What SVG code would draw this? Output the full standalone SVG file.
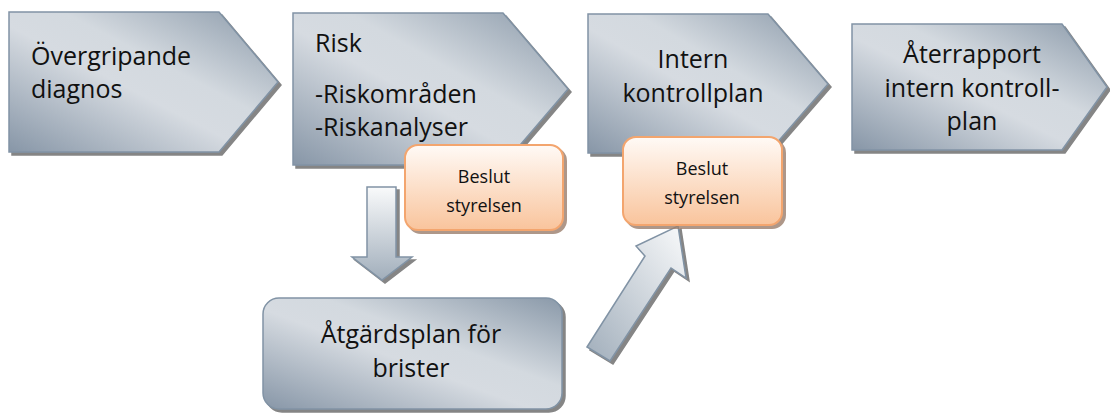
<svg xmlns="http://www.w3.org/2000/svg" width="1110" height="414" viewBox="0 0 1110 414">
<defs>
<linearGradient id="gray" x1="0" y1="1" x2="1" y2="0">
<stop offset="0" stop-color="#8796a7"/>
<stop offset="0.45" stop-color="#d6dbe1"/>
<stop offset="0.6" stop-color="#d3d9df"/>
<stop offset="1" stop-color="#8a99a9"/>
</linearGradient>
<linearGradient id="peach" x1="0" y1="0" x2="0" y2="1">
<stop offset="0" stop-color="#fffaf6"/>
<stop offset="1" stop-color="#f9c49c"/>
</linearGradient>
<linearGradient id="arrowV" x1="0" y1="0" x2="0" y2="1">
<stop offset="0" stop-color="#f9fafb"/>
<stop offset="1" stop-color="#a1aebb"/>
</linearGradient>
<linearGradient id="arrowD" x1="1" y1="0" x2="0" y2="1">
<stop offset="0" stop-color="#f9fafb"/>
<stop offset="1" stop-color="#a1aebb"/>
</linearGradient>
<filter id="sh" x="-10%" y="-10%" width="130%" height="130%">
<feDropShadow dx="3" dy="3" stdDeviation="0.7" flood-color="#6f6f6f" flood-opacity="0.85"/>
</filter>
<filter id="shp" x="-10%" y="-10%" width="130%" height="130%">
<feDropShadow dx="3" dy="3" stdDeviation="0.7" flood-color="#9a7e6a" flood-opacity="0.8"/>
</filter>
</defs>
<style>
.chev{fill:url(#gray);stroke:#8193a5;stroke-width:1.5;filter:url(#sh)}
.box{fill:url(#gray);stroke:#8193a5;stroke-width:1.5;filter:url(#sh)}
.dec{fill:url(#peach);stroke:#f3a56e;stroke-width:2;filter:url(#shp)}
.arr{stroke:#8193a5;stroke-width:1.5;filter:url(#sh)}
.t{font-family:"Open Sans","Noto Sans",sans-serif;font-size:25px;fill:#111}
.s{font-family:"Open Sans","Noto Sans",sans-serif;font-size:18px;fill:#111}
.c{text-anchor:middle}
</style>

<g id="connectors">
<polygon class="arr" fill="url(#arrowV)" points="367,187 396,187 396,257 412,257 382,280 352,257 367,257"/>
<polygon class="arr" fill="url(#arrowD)" points="587,347 645,256 636,246 678,226 686,278 671,268 610,361"/>
</g>

<g id="node-overgripande">
<polygon class="chev" points="9,12 219,12 278,82 219,152 9,152"/>
<text class="t" x="31" y="65">Övergripande</text>
<text class="t" x="31" y="98">diagnos</text>
</g>

<g id="node-risk">
<polygon class="chev" points="293,13 503,13 568,89 503,165 293,165"/>
<text class="t" x="315" y="52">Risk</text>
<text class="t" x="315" y="103">-Riskområden</text>
<text class="t" x="315" y="136">-Riskanalyser</text>
</g>

<g id="node-intern">
<polygon class="chev" points="588,14 768,14 828,84 768,153 588,153"/>
<text class="t c" x="693" y="68">Intern</text>
<text class="t c" x="693" y="102">kontrollplan</text>
</g>

<g id="node-aterrapport">
<polygon class="chev" points="852,24 1062,24 1107,87 1062,150 852,150"/>
<text class="t c" x="972" y="63">Återrapport</text>
<text class="t c" x="972" y="97">intern kontroll-</text>
<text class="t c" x="972" y="130">plan</text>
</g>

<g id="node-beslut1">
<rect class="dec" x="405" y="145" width="158" height="85" rx="13"/>
<text class="s c" x="484" y="183">Beslut</text>
<text class="s c" x="484" y="212">styrelsen</text>
</g>

<g id="node-beslut2">
<rect class="dec" x="623" y="137" width="159" height="88" rx="13"/>
<text class="s c" x="702" y="175">Beslut</text>
<text class="s c" x="702" y="204">styrelsen</text>
</g>

<g id="node-atgardsplan">
<rect class="box" x="263" y="298" width="299" height="111" rx="16"/>
<text class="t c" x="411" y="343">Åtgärdsplan för</text>
<text class="t c" x="411" y="377">brister</text>
</g>
</svg>
